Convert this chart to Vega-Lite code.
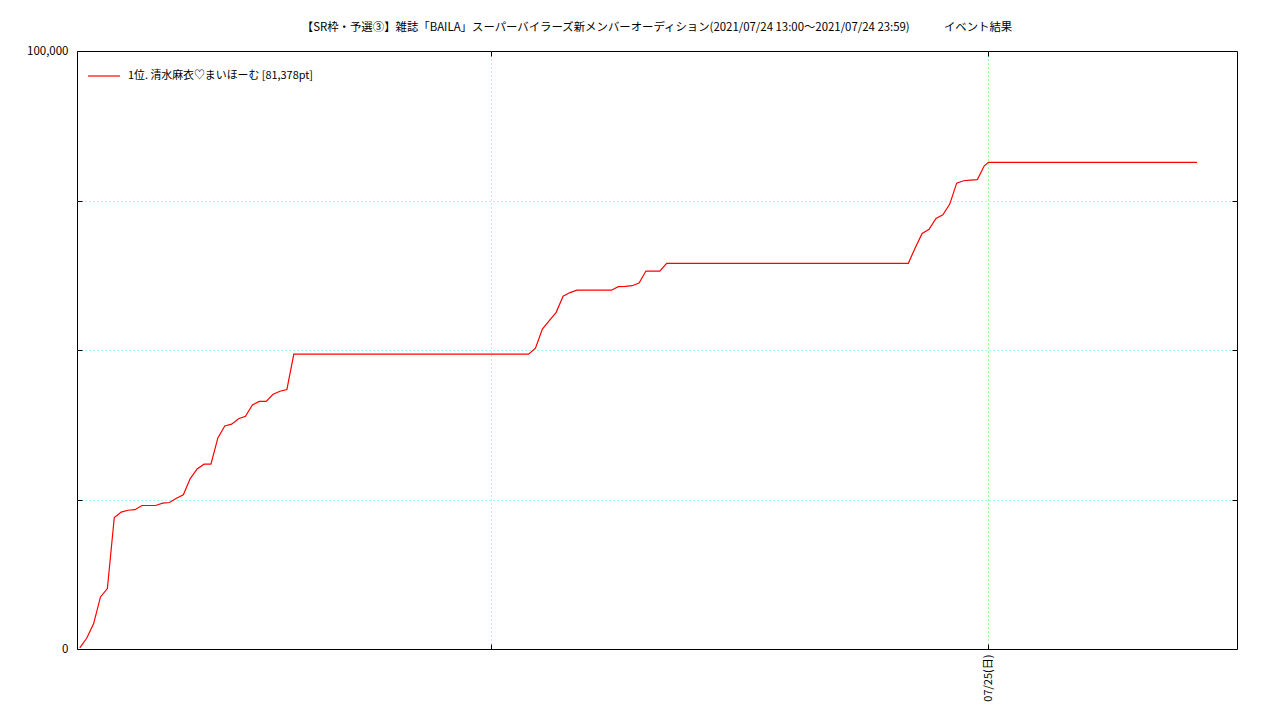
{
  "$schema": "https://vega.github.io/schema/vega-lite/v6.json",
  "width": 1160,
  "height": 598,
  "autosize": {"type": "none"},
  "padding": {"left": 77, "top": 51, "right": 43, "bottom": 71},
  "background": "white",
  "title": {
    "text": "【SR枠・予選③】雑誌「BAILA」スーパーバイラーズ新メンバーオーディション(2021/07/24 13:00～2021/07/24 23:59)　　　イベント結果",
    "font": "Noto Sans CJK JP",
    "fontSize": 11.4,
    "fontWeight": "normal",
    "color": "black",
    "anchor": "middle",
    "offset": 12
  },
  "data": {
    "values": [
      {"time": "2021-07-24T13:02:00", "points": 200, "name": "1位. 清水麻衣♡まいほーむ [81,378pt]"},
      {"time": "2021-07-24T13:07:00", "points": 1800, "name": "1位. 清水麻衣♡まいほーむ [81,378pt]"},
      {"time": "2021-07-24T13:12:00", "points": 4200, "name": "1位. 清水麻衣♡まいほーむ [81,378pt]"},
      {"time": "2021-07-24T13:17:00", "points": 8700, "name": "1位. 清水麻衣♡まいほーむ [81,378pt]"},
      {"time": "2021-07-24T13:22:00", "points": 10100, "name": "1位. 清水麻衣♡まいほーむ [81,378pt]"},
      {"time": "2021-07-24T13:27:00", "points": 22000, "name": "1位. 清水麻衣♡まいほーむ [81,378pt]"},
      {"time": "2021-07-24T13:32:00", "points": 22900, "name": "1位. 清水麻衣♡まいほーむ [81,378pt]"},
      {"time": "2021-07-24T13:37:00", "points": 23200, "name": "1位. 清水麻衣♡まいほーむ [81,378pt]"},
      {"time": "2021-07-24T13:42:00", "points": 23300, "name": "1位. 清水麻衣♡まいほーむ [81,378pt]"},
      {"time": "2021-07-24T13:47:00", "points": 24000, "name": "1位. 清水麻衣♡まいほーむ [81,378pt]"},
      {"time": "2021-07-24T13:52:00", "points": 24000, "name": "1位. 清水麻衣♡まいほーむ [81,378pt]"},
      {"time": "2021-07-24T13:57:00", "points": 24000, "name": "1位. 清水麻衣♡まいほーむ [81,378pt]"},
      {"time": "2021-07-24T14:02:00", "points": 24400, "name": "1位. 清水麻衣♡まいほーむ [81,378pt]"},
      {"time": "2021-07-24T14:07:00", "points": 24500, "name": "1位. 清水麻衣♡まいほーむ [81,378pt]"},
      {"time": "2021-07-24T14:12:00", "points": 25200, "name": "1位. 清水麻衣♡まいほーむ [81,378pt]"},
      {"time": "2021-07-24T14:17:00", "points": 25800, "name": "1位. 清水麻衣♡まいほーむ [81,378pt]"},
      {"time": "2021-07-24T14:22:00", "points": 28500, "name": "1位. 清水麻衣♡まいほーむ [81,378pt]"},
      {"time": "2021-07-24T14:27:00", "points": 30100, "name": "1位. 清水麻衣♡まいほーむ [81,378pt]"},
      {"time": "2021-07-24T14:32:00", "points": 30900, "name": "1位. 清水麻衣♡まいほーむ [81,378pt]"},
      {"time": "2021-07-24T14:37:00", "points": 30900, "name": "1位. 清水麻衣♡まいほーむ [81,378pt]"},
      {"time": "2021-07-24T14:42:00", "points": 35300, "name": "1位. 清水麻衣♡まいほーむ [81,378pt]"},
      {"time": "2021-07-24T14:47:00", "points": 37300, "name": "1位. 清水麻衣♡まいほーむ [81,378pt]"},
      {"time": "2021-07-24T14:52:00", "points": 37600, "name": "1位. 清水麻衣♡まいほーむ [81,378pt]"},
      {"time": "2021-07-24T14:57:00", "points": 38500, "name": "1位. 清水麻衣♡まいほーむ [81,378pt]"},
      {"time": "2021-07-24T15:02:00", "points": 38900, "name": "1位. 清水麻衣♡まいほーむ [81,378pt]"},
      {"time": "2021-07-24T15:07:00", "points": 40800, "name": "1位. 清水麻衣♡まいほーむ [81,378pt]"},
      {"time": "2021-07-24T15:12:00", "points": 41400, "name": "1位. 清水麻衣♡まいほーむ [81,378pt]"},
      {"time": "2021-07-24T15:17:00", "points": 41400, "name": "1位. 清水麻衣♡まいほーむ [81,378pt]"},
      {"time": "2021-07-24T15:22:00", "points": 42600, "name": "1位. 清水麻衣♡まいほーむ [81,378pt]"},
      {"time": "2021-07-24T15:27:00", "points": 43100, "name": "1位. 清水麻衣♡まいほーむ [81,378pt]"},
      {"time": "2021-07-24T15:32:00", "points": 43400, "name": "1位. 清水麻衣♡まいほーむ [81,378pt]"},
      {"time": "2021-07-24T15:37:00", "points": 49300, "name": "1位. 清水麻衣♡まいほーむ [81,378pt]"},
      {"time": "2021-07-24T18:27:00", "points": 49300, "name": "1位. 清水麻衣♡まいほーむ [81,378pt]"},
      {"time": "2021-07-24T18:32:00", "points": 50300, "name": "1位. 清水麻衣♡まいほーむ [81,378pt]"},
      {"time": "2021-07-24T18:37:00", "points": 53500, "name": "1位. 清水麻衣♡まいほーむ [81,378pt]"},
      {"time": "2021-07-24T18:42:00", "points": 54900, "name": "1位. 清水麻衣♡まいほーむ [81,378pt]"},
      {"time": "2021-07-24T18:47:00", "points": 56300, "name": "1位. 清水麻衣♡まいほーむ [81,378pt]"},
      {"time": "2021-07-24T18:52:00", "points": 59000, "name": "1位. 清水麻衣♡まいほーむ [81,378pt]"},
      {"time": "2021-07-24T18:57:00", "points": 59600, "name": "1位. 清水麻衣♡まいほーむ [81,378pt]"},
      {"time": "2021-07-24T19:02:00", "points": 60000, "name": "1位. 清水麻衣♡まいほーむ [81,378pt]"},
      {"time": "2021-07-24T19:27:00", "points": 60000, "name": "1位. 清水麻衣♡まいほーむ [81,378pt]"},
      {"time": "2021-07-24T19:32:00", "points": 60600, "name": "1位. 清水麻衣♡まいほーむ [81,378pt]"},
      {"time": "2021-07-24T19:37:00", "points": 60650, "name": "1位. 清水麻衣♡まいほーむ [81,378pt]"},
      {"time": "2021-07-24T19:42:00", "points": 60750, "name": "1位. 清水麻衣♡まいほーむ [81,378pt]"},
      {"time": "2021-07-24T19:47:00", "points": 61200, "name": "1位. 清水麻衣♡まいほーむ [81,378pt]"},
      {"time": "2021-07-24T19:52:00", "points": 63200, "name": "1位. 清水麻衣♡まいほーむ [81,378pt]"},
      {"time": "2021-07-24T20:02:00", "points": 63200, "name": "1位. 清水麻衣♡まいほーむ [81,378pt]"},
      {"time": "2021-07-24T20:07:00", "points": 64500, "name": "1位. 清水麻衣♡まいほーむ [81,378pt]"},
      {"time": "2021-07-24T23:02:00", "points": 64500, "name": "1位. 清水麻衣♡まいほーむ [81,378pt]"},
      {"time": "2021-07-24T23:07:00", "points": 67100, "name": "1位. 清水麻衣♡まいほーむ [81,378pt]"},
      {"time": "2021-07-24T23:12:00", "points": 69500, "name": "1位. 清水麻衣♡まいほーむ [81,378pt]"},
      {"time": "2021-07-24T23:17:00", "points": 70200, "name": "1位. 清水麻衣♡まいほーむ [81,378pt]"},
      {"time": "2021-07-24T23:22:00", "points": 72000, "name": "1位. 清水麻衣♡まいほーむ [81,378pt]"},
      {"time": "2021-07-24T23:27:00", "points": 72600, "name": "1位. 清水麻衣♡まいほーむ [81,378pt]"},
      {"time": "2021-07-24T23:32:00", "points": 74400, "name": "1位. 清水麻衣♡まいほーむ [81,378pt]"},
      {"time": "2021-07-24T23:37:00", "points": 77900, "name": "1位. 清水麻衣♡まいほーむ [81,378pt]"},
      {"time": "2021-07-24T23:42:00", "points": 78300, "name": "1位. 清水麻衣♡まいほーむ [81,378pt]"},
      {"time": "2021-07-24T23:47:00", "points": 78400, "name": "1位. 清水麻衣♡まいほーむ [81,378pt]"},
      {"time": "2021-07-24T23:52:00", "points": 78500, "name": "1位. 清水麻衣♡まいほーむ [81,378pt]"},
      {"time": "2021-07-24T23:57:00", "points": 80800, "name": "1位. 清水麻衣♡まいほーむ [81,378pt]"},
      {"time": "2021-07-25T00:00:00", "points": 81378, "name": "1位. 清水麻衣♡まいほーむ [81,378pt]"},
      {"time": "2021-07-25T02:31:00", "points": 81378, "name": "1位. 清水麻衣♡まいほーむ [81,378pt]"}
    ]
  },
  "layer": [
    {
      "mark": {"type": "line", "strokeWidth": 1.2},
      "encoding": {
        "x": {
          "field": "time",
          "type": "temporal",
          "scale": {"domain": [{"year": 2021, "month": 7, "date": 24, "hours": 13}, {"year": 2021, "month": 7, "date": 25, "hours": 3}]},
          "axis": {
            "orient": "bottom",
            "title": null,
            "values": [{"year": 2021, "month": 7, "date": 24, "hours": 18}, {"year": 2021, "month": 7, "date": 25, "hours": 0}],
            "labelExpr": "hours(datum.value) == 0 ? timeFormat(datum.value, '%m/%d') + '(日)' : ''",
            "labelAngle": 270,
            "labelAlign": "right",
            "labelBaseline": "middle",
            "labelPadding": 10,
            "tickSize": -5,
            "tickColor": "black",
            "domain": false,
            "grid": true,
            "gridDash": [1, 3],
            "gridColor": {"condition": {"test": "hours(datum.value) == 0", "value": "#44ff44"}, "value": "#44ffff"},
            "gridWidth": 1
          }
        },
        "y": {
          "field": "points",
          "type": "quantitative",
          "scale": {"domain": [0, 100000], "nice": false},
          "axis": {
            "orient": "left",
            "title": null,
            "values": [0, 25000, 50000, 75000, 100000],
            "labelExpr": "datum.value == 0 || datum.value == 100000 ? format(datum.value, ',d') : ''",
            "labelPadding": 14,
            "labelFontSize": 11.5,
            "tickSize": -5,
            "tickColor": "black",
            "domain": false,
            "grid": true,
            "gridDash": [1, 3],
            "gridColor": "#44ffff",
            "gridOpacity": {"condition": {"test": "datum.value == 0 || datum.value == 100000", "value": 0}, "value": 1}
          }
        },
        "color": {
          "field": "name",
          "type": "nominal",
          "scale": {"range": ["#ff0000"]},
          "legend": {
            "title": null,
            "orient": "none",
            "legendX": 10,
            "legendY": 8,
            "symbolType": "stroke",
            "symbolSize": 1024,
            "symbolStrokeWidth": 1.2,
            "labelOffset": 7,
            "labelLimit": 500,
            "padding": 0,
            "labelFont": "Noto Sans CJK JP",
            "labelFontSize": 10.9,
            "labelColor": "black",
            "labelBaseline": "middle",
            "labelDy": 1
          }
        }
      }
    },
    {
      "mark": {"type": "line", "opacity": 0},
      "encoding": {
        "x": {
          "field": "time",
          "type": "temporal",
          "axis": {
            "orient": "top",
            "title": null,
            "values": [{"year": 2021, "month": 7, "date": 24, "hours": 18}, {"year": 2021, "month": 7, "date": 25, "hours": 0}],
            "labels": false,
            "tickSize": -5,
            "tickColor": "black",
            "domain": false,
            "grid": false
          }
        },
        "y": {
          "field": "points",
          "type": "quantitative",
          "axis": {
            "orient": "right",
            "title": null,
            "values": [25000, 50000, 75000],
            "labels": false,
            "tickSize": -5,
            "tickColor": "black",
            "domain": false,
            "grid": false
          }
        }
      }
    }
  ],
  "resolve": {"axis": {"x": "independent", "y": "independent"}},
  "config": {
    "view": {"stroke": "black", "strokeWidth": 1},
    "axis": {"labelFont": "Noto Sans CJK JP", "labelFontSize": 11, "labelColor": "black"}
  }
}
